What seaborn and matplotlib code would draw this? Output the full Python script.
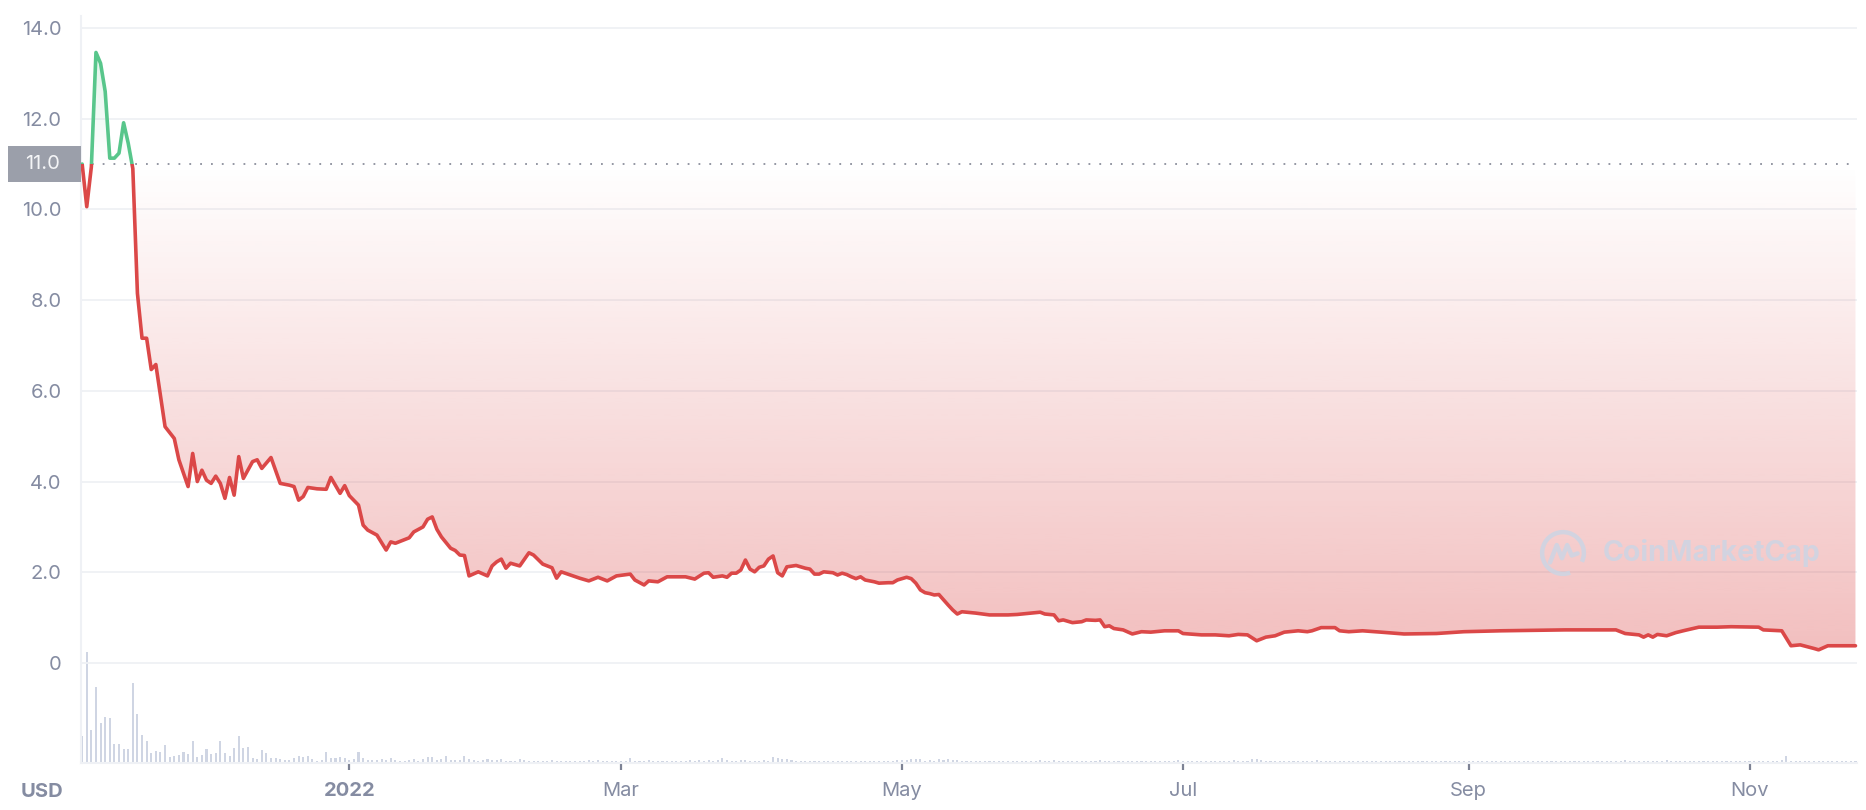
import matplotlib
matplotlib.use("Agg")
import matplotlib.pyplot as plt
import matplotlib.dates as mdates
import matplotlib.transforms as mtransforms
from matplotlib.colors import to_rgb
from matplotlib.patches import Rectangle, PathPatch, Arc
from matplotlib.path import Path
import numpy as np
import pandas as pd
import seaborn as sns

# daily series starts here; price points are (day offset, USD)
start_date = "2021-11-04"

price_day = [
    0, 1, 2, 3, 4, 5, 6, 7, 8, 9, 10, 11, 12, 13, 14, 15, 16, 18, 20, 21,
    23, 24, 25, 26, 27, 28, 29, 30, 31, 32, 33, 34, 35, 37, 38, 39, 41, 43, 45, 46,
    47, 48, 49, 51, 53, 54, 56, 57, 58, 60, 61, 62, 64, 66, 67, 68, 71, 72, 74, 75,
    76, 77, 78, 80, 81, 82, 83, 84, 86, 88, 89, 90, 91, 92, 93, 95, 97, 98, 100, 102,
    103, 104, 106, 108, 110, 112, 114, 116, 119, 120, 122, 123, 125, 127, 131, 133, 135, 136, 137, 139,
    140, 141, 142, 143, 144, 145, 146, 147, 148, 149, 150, 151, 152, 153, 155, 157, 158, 159, 160, 161,
    163, 164, 165, 166, 167, 168, 169, 170, 172, 173, 175, 176, 177, 179, 180, 181, 182, 183, 184, 185,
    186, 188, 189, 190, 191, 194, 197, 201, 203, 205, 208, 209, 211, 212, 213, 215, 217, 218, 220, 221,
    222, 223, 224, 226, 228, 230, 232, 235, 238, 239, 243, 246, 249, 251, 253, 255, 257, 259, 261, 264,
    266, 267, 269, 272, 273, 275, 278, 282, 287, 294, 300, 308, 315, 322, 333, 335, 338, 339, 340, 341,
    342, 344, 346, 348, 351, 355, 358, 364, 365, 369, 371, 373, 376, 377, 379, 385,
]
price_usd = [
    11.0, 10.06, 10.94, 13.46, 13.22, 12.60, 11.13, 11.13, 11.24, 11.91, 11.46, 10.90, 8.15, 7.16, 7.16, 6.47, 6.58, 5.21, 4.95, 4.48,
    3.89, 4.62, 4.00, 4.25, 4.03, 3.96, 4.12, 3.96, 3.63, 4.09, 3.70, 4.55, 4.07, 4.44, 4.48, 4.29, 4.53, 3.96, 3.92, 3.89,
    3.59, 3.67, 3.87, 3.84, 3.83, 4.09, 3.74, 3.91, 3.69, 3.48, 3.04, 2.93, 2.82, 2.49, 2.67, 2.64, 2.76, 2.89, 3.00, 3.17,
    3.22, 2.95, 2.78, 2.53, 2.48, 2.38, 2.37, 1.92, 2.01, 1.92, 2.14, 2.23, 2.29, 2.09, 2.20, 2.14, 2.43, 2.38, 2.18, 2.10,
    1.87, 2.01, 1.94, 1.87, 1.81, 1.89, 1.81, 1.92, 1.96, 1.83, 1.72, 1.81, 1.79, 1.90, 1.90, 1.85, 1.98, 1.99, 1.89, 1.92,
    1.89, 1.98, 1.98, 2.05, 2.27, 2.07, 2.01, 2.11, 2.14, 2.29, 2.36, 1.99, 1.92, 2.12, 2.15, 2.09, 2.07, 1.96, 1.96, 2.01,
    1.99, 1.94, 1.98, 1.95, 1.90, 1.86, 1.90, 1.83, 1.79, 1.76, 1.77, 1.77, 1.83, 1.89, 1.86, 1.76, 1.61, 1.55, 1.53, 1.50,
    1.51, 1.28, 1.17, 1.08, 1.13, 1.10, 1.06, 1.06, 1.07, 1.09, 1.12, 1.08, 1.06, 0.93, 0.95, 0.89, 0.91, 0.95, 0.94, 0.95,
    0.80, 0.82, 0.76, 0.73, 0.64, 0.69, 0.68, 0.71, 0.71, 0.65, 0.62, 0.62, 0.60, 0.63, 0.62, 0.49, 0.57, 0.60, 0.68, 0.71,
    0.69, 0.71, 0.78, 0.78, 0.71, 0.69, 0.71, 0.68, 0.64, 0.65, 0.69, 0.71, 0.72, 0.73, 0.73, 0.65, 0.62, 0.57, 0.62, 0.57,
    0.63, 0.60, 0.67, 0.72, 0.79, 0.79, 0.80, 0.79, 0.73, 0.71, 0.38, 0.40, 0.32, 0.29, 0.38, 0.38,
]

# one bar per day (relative heights)
volume = [
    82, 334, 100, 229, 121, 139, 136, 58, 58, 43,
    43, 241, 148, 85, 67, 31, 37, 34, 55, 19,
    22, 25, 34, 28, 67, 19, 25, 43, 28, 31,
    67, 31, 22, 46, 82, 46, 49, 16, 13, 40,
    31, 16, 16, 13, 10, 10, 16, 22, 19, 22,
    13, 7, 10, 34, 16, 16, 19, 16, 10, 13,
    34, 16, 10, 10, 10, 13, 10, 16, 10,
    6, 6, 9, 12, 6, 12, 18, 18, 9, 12,
    21, 9, 9, 9, 21, 12, 9, 6, 9, 12,
    9, 9, 12, 6, 6, 6, 12, 9, 6, 6,
    6, 6, 6, 9, 6, 6, 6, 6, 6, 6,
    6, 9, 6, 9, 6, 6, 6, 6, 6, 6,
    15, 6, 6, 6, 9, 6, 6, 6, 6, 6,
    6, 6, 6, 9, 6, 9, 6, 9, 6, 9,
    15, 9, 6, 6, 9, 9, 6, 6, 6, 9,
    6, 18, 15, 12, 12, 9, 6, 6, 6, 6,
    6, 6, 6, 6, 6, 6, 6, 6, 6, 6,
    6, 6, 6, 6, 6, 6, 6, 6, 10, 10,
    10, 13, 13, 13, 6, 10, 6, 13, 10, 13,
    10, 10, 6, 6, 6, 6, 6, 6, 6, 6,
    6, 6, 6, 6, 6, 6, 6, 6, 6, 10,
    6, 6, 10, 6, 6, 6, 6, 6, 6, 6,
    6, 6, 10, 6, 6, 6, 6, 6, 6, 6,
    6, 6, 6, 6, 6, 6, 6, 6, 6, 10,
    6, 6, 6, 6, 6, 6, 6, 6, 6, 6,
    6, 10, 6, 6, 6, 13, 13, 10, 6, 6,
    6, 6, 6, 6, 6, 6, 6, 6, 6, 10,
    6, 6, 6, 6, 6, 6, 6, 6, 6, 6,
    6, 6, 6, 6, 6, 6, 6, 6, 6, 6,
    6, 6, 6, 6, 6, 6, 6, 6, 6, 6,
    6, 6, 6, 6, 6, 6, 6, 6, 6, 6,
    6, 6, 6, 6, 6, 6, 6, 6, 6, 6,
    6, 6, 6, 6, 6, 6, 6, 6, 6, 6,
    6, 6, 6, 6, 6, 6, 10, 6, 6, 6,
    6, 6, 6, 6, 6, 10, 6, 6, 6, 6,
    6, 6, 6, 6, 6, 6, 6, 6, 6, 6,
    6, 6, 6, 6, 6, 6, 6, 6, 6, 6,
    10, 20, 6, 6, 6, 6, 6, 6, 6, 6,
    6, 6, 6, 6, 6, 6, 6,
]

tick_dates = ["2022-01-01", "2022-03-01", "2022-05-01", "2022-07-01", "2022-09-01", "2022-11-01"]
tick_labels = ["2022", "Mar", "May", "Jul", "Sep", "Nov"]
ytick_values = [0, 2, 4, 6, 8, 10, 12, 14]

RED = "#db4848"
GREEN = "#58c68b"
GRID = "#eff1f5"
LABEL = "#858ca2"
VOL = "#cfd5e3"
MARK = "#ccd5e4"

start = pd.Timestamp(start_date)
df = pd.DataFrame({"date": start + pd.to_timedelta(price_day, unit="D"), "price": price_usd})
vol = pd.DataFrame({"date": start + pd.to_timedelta(np.arange(len(volume)), unit="D"),
                    "volume": volume})
base = price_usd[0]

sns.set_theme(style="white")
plt.rcParams["font.family"] = ["Inter", "DejaVu Sans"]

W, H = 1866, 810
fig = plt.figure(figsize=(W / 100, H / 100), dpi=100, facecolor="white")
ax = fig.add_axes([81 / W, 47 / H, 1776 / W, 747 / H])

# volume pane shares the x axis, drawn underneath
ax2 = ax.twinx()
ax.set_zorder(2)
ax2.set_zorder(1)
ax.patch.set_visible(False)
ax2.bar(vol["date"], vol["volume"], width=0.45, color=VOL, linewidth=0)
ax2.set_ylim(0, max(volume) * 6.7)
ax2.axis("off")

# price lines, red below the opening price and green above
sns.lineplot(data=df, x="date", y="price", ax=ax, color=RED, linewidth=2.6, zorder=4)
red_line = ax.lines[-1]
sns.lineplot(data=df, x="date", y="price", ax=ax, color=GREEN, linewidth=2.6, zorder=4)
green_line = ax.lines[-1]

xs = mdates.date2num(df["date"])
x0, x1 = xs[0], xs[-1]
red_line.set_clip_path(Rectangle((x0 - 5, -10), x1 - x0 + 10, base + 10, transform=ax.transData))
green_line.set_clip_path(Rectangle((x0 - 5, base), x1 - x0 + 10, 30, transform=ax.transData))

# gradient area between the line and the opening price
verts = np.column_stack([np.r_[x0, xs, x1], np.r_[base, df["price"].values, base]])
area = PathPatch(Path(verts), transform=ax.transData, fc="none", ec="none")

red_grad = np.zeros((256, 1, 4))
red_grad[..., :3] = to_rgb(RED)
red_grad[:, 0, 3] = np.linspace(0.36, 0.0, 256)
im = ax.imshow(red_grad, extent=(x0, x1, 0, base), origin="lower", aspect="auto",
               zorder=1, interpolation="bilinear")
im.set_clip_path(area)

green_grad = np.zeros((256, 1, 4))
green_grad[..., :3] = to_rgb(GREEN)
green_grad[:, 0, 3] = np.linspace(0.0, 0.22, 256)
im2 = ax.imshow(green_grad, extent=(x0, x1, base, 14), origin="lower", aspect="auto",
                zorder=1, interpolation="bilinear")
im2.set_clip_path(area)

# dotted reference line at the opening price
ax.axhline(base, color="#8b8f9c", linewidth=1.3, linestyle=(0, (1, 5)), zorder=3)

ax.set_xlim(start - pd.Timedelta(hours=6), df["date"].iloc[-1] + pd.Timedelta(hours=8))
ax.set_ylim((663 - 763) / 45.36, (663 - 16) / 45.36)

ax.set_yticks(ytick_values)
ax.set_yticklabels(["0" if v == 0 else f"{v:.1f}" for v in ytick_values])
ax.set_xticks(pd.to_datetime(tick_dates))
ax.set_xticklabels(tick_labels)
ax.xaxis.get_ticklabels()[0].set_fontweight("bold")
ax.set_xlabel("")
ax.set_ylabel("")

ax.grid(axis="y", color=GRID, linewidth=1.3)
ax.grid(axis="x", visible=False)
ax.tick_params(axis="y", length=0, pad=14, labelsize=14.5, labelcolor=LABEL)
ax.tick_params(axis="x", length=5, width=1.6, color="#7d8294", pad=9, labelsize=14.5,
               labelcolor=LABEL, direction="out", bottom=True)
for side in ["top", "right"]:
    ax.spines[side].set_visible(False)
for side in ["left", "bottom"]:
    ax.spines[side].set_color(GRID)
    ax.spines[side].set_linewidth(1.5)

# opening price badge on the y axis
blend = mtransforms.blended_transform_factory(ax.transAxes, ax.transData)
box_w = 73 / 1776
box_h = 36 / 45.36
ax.add_patch(Rectangle((-box_w, base - box_h / 2), box_w, box_h, transform=blend,
                       facecolor="#9b9faa", edgecolor="none", clip_on=False, zorder=5))
ax.text(-39 / 1776, base, f"{base:.1f}", transform=blend, ha="center", va="center",
        fontsize=14.5, color="#f4f5f7", zorder=6, clip_on=False)

fig.text(42 / W, 1 - 792 / H, "USD", ha="center", va="center", fontsize=14.5,
         fontweight="bold", color=LABEL)

# watermark
fig.text(1603 / W, 1 - 553 / H, "CoinMarketCap", ha="left", va="center", fontsize=20.5,
         fontweight="bold", color=MARK, alpha=0.85, zorder=10)
logo = fig.add_axes([1539 / W, 1 - 577 / H, 48 / W, 48 / H], zorder=10)
logo.set_xlim(-1.15, 1.15)
logo.set_ylim(-1.15, 1.15)
logo.set_aspect("equal")
logo.axis("off")
logo.add_patch(Arc((0, 0), 2.0, 2.0, theta1=-25, theta2=290, color=MARK, linewidth=3.2, alpha=0.85))
logo.plot([-0.62, -0.3, -0.05, 0.2, 0.42, 0.7], [-0.45, 0.38, -0.25, 0.38, -0.12, -0.02],
          color=MARK, linewidth=3.2, alpha=0.85, solid_joinstyle="round", solid_capstyle="round")

fig.savefig("out.png", dpi=100, facecolor="white")
